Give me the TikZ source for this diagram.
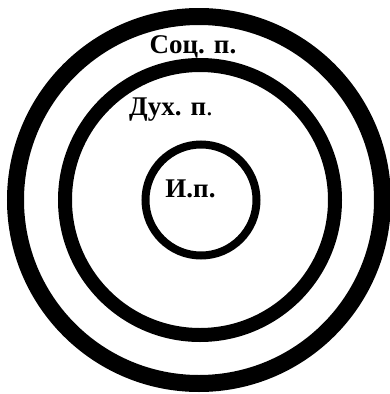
\documentclass[tikz,border=0pt]{standalone}
\usepackage{fontspec}
\setmainfont{Liberation Serif}
\usepackage{tikz}
\usetikzlibrary{positioning}

\begin{document}
\begin{tikzpicture}[
  x=1pt,y=-1pt,
  ring/.style={circle,draw=black,inner sep=0pt,outer sep=0pt},
  lbl/.style={font=\fontsize{27}{30}\selectfont\bfseries,inner sep=0pt,anchor=base}]
\useasboundingbox (0,0) rectangle (390,394);
\node[ring,line width=17pt,minimum size=367pt] (soc) at (199,200) {};
\node[ring,line width=14pt,minimum size=270pt] (dukh) at (200,200) {};
\node[ring,line width=8pt,minimum size=111pt] (ind) at (201,200) {};
\node[lbl] (socl) at (193,53) {Соц. п.};
\node[lbl] (dukhl) at (171,115) {Дух. п{\mdseries.}};
\node[lbl] (indl) at (190.5,197) {И.п.};
\end{tikzpicture}
\end{document}
